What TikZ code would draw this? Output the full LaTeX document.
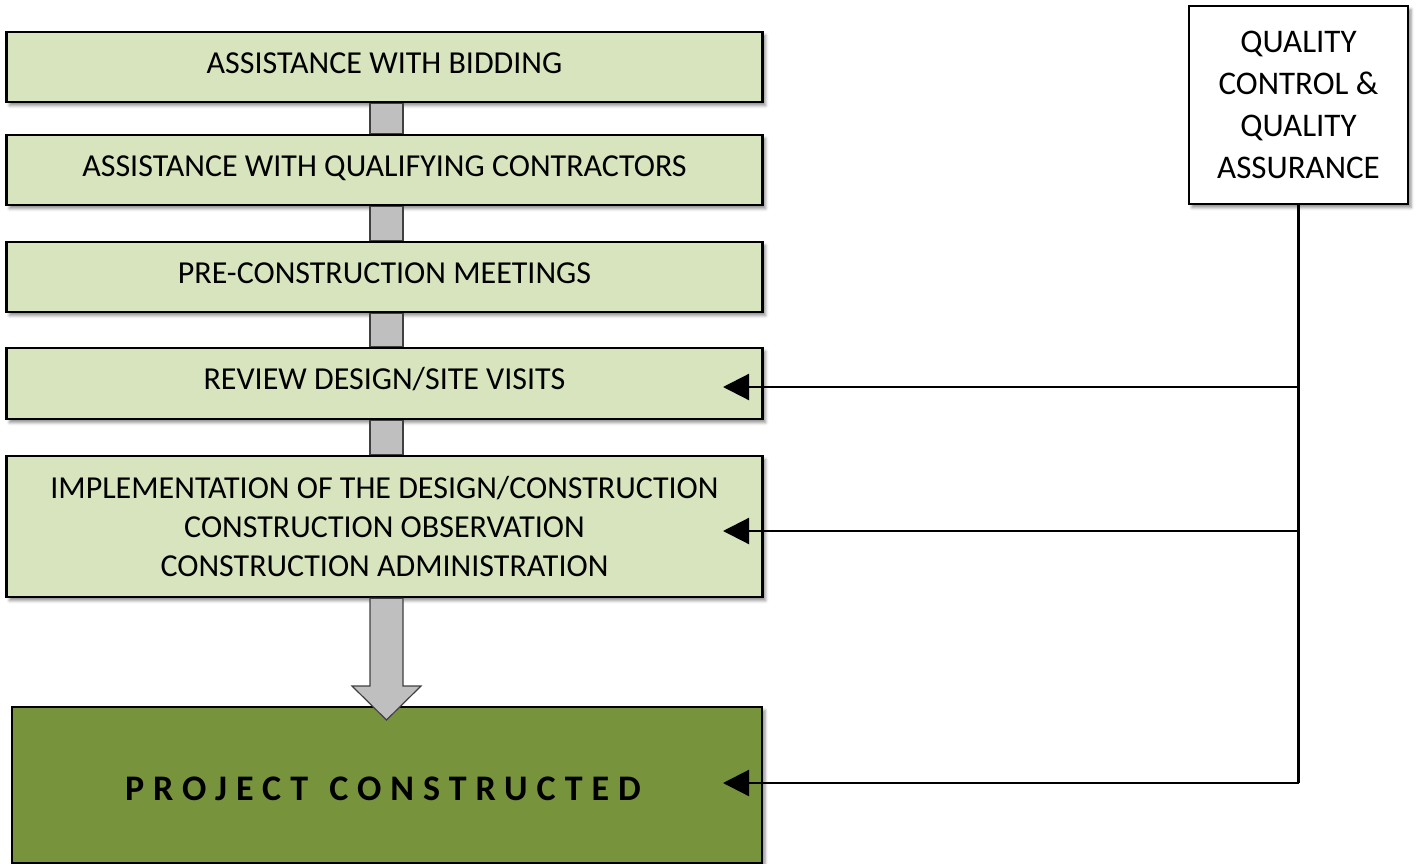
\documentclass[tikz,border=0pt]{standalone}
\usepackage{fontspec}
\setmainfont{Carlito}
\usetikzlibrary{arrows.meta,shadows.blur}
\definecolor{lightgr}{HTML}{D7E4BD}
\definecolor{darkgr}{HTML}{77933C}
\definecolor{bargray}{HTML}{BFBFBF}
\tikzset{
  shd/.style={blur shadow={shadow xshift=3pt,shadow yshift=-3.5pt,shadow blur radius=3pt,shadow opacity=45}},
  stepbox/.style={draw=black,line width=2.6pt,fill=lightgr,shd,minimum width=756pt,inner sep=0pt,align=center,font=\fontsize{32}{39}\selectfont},
  oneline/.style={text height=21pt,text depth=8.4pt},
  finbox/.style={draw=black,line width=2.2pt,fill=darkgr,shd,minimum width=750pt,minimum height=156pt,inner sep=0pt,align=center,text height=30pt,text depth=0pt,font=\fontsize{36}{40}\selectfont\bfseries\addfontfeature{LetterSpace=25}},
  qcbox/.style={draw=black,line width=2.4pt,fill=white,shd,minimum width=219pt,minimum height=198pt,inner sep=0pt,align=center,font=\fontsize{33}{42}\selectfont},
  barstyle/.style={draw=black!75,line width=1.2pt,fill=bargray},
  conn/.style={draw=black,line width=2.2pt},
  qarrow/.style={conn,-{Triangle[length=26pt,width=26pt]}}
}
\begin{document}
\begin{tikzpicture}[x=1pt,y=-1pt]
\useasboundingbox (0,0) rectangle (1416,864);
\coordinate (barL) at (370,0);
\coordinate (barR) at (403,0);
% nodes
\node[stepbox,oneline,minimum height=70pt] (b1) at (384.5,67) {ASSISTANCE WITH BIDDING};
\node[stepbox,oneline,minimum height=70pt] (b2) at (384.5,170) {ASSISTANCE WITH QUALIFYING CONTRACTORS};
\node[stepbox,oneline,minimum height=70pt] (b3) at (384.5,277) {PRE-CONSTRUCTION MEETINGS};
\node[stepbox,oneline,minimum height=71pt] (b4) at (384.5,383.5) {REVIEW DESIGN/SITE VISITS};
\node[stepbox,minimum height=141pt] (b5) at (384.5,526.5) {IMPLEMENTATION OF THE DESIGN/CONSTRUCTION\\CONSTRUCTION OBSERVATION\\CONSTRUCTION ADMINISTRATION};
\node[finbox] (fin) at (387,785) {\hspace*{-8pt}PROJECT\hspace{4pt} CONSTRUCTED};
\node[qcbox] (qc) at (1298.5,105) {QUALITY\\CONTROL \&\\QUALITY\\ASSURANCE};
% gray bars between step boxes
\path[barstyle] (barL |- b1.south) rectangle (barR |- b2.north);
\path[barstyle] (barL |- b2.south) rectangle (barR |- b3.north);
\path[barstyle] (barL |- b3.south) rectangle (barR |- b4.north);
\path[barstyle] (barL |- b4.south) rectangle (barR |- b5.north);
% big block arrow
\path[barstyle] (barL |- b5.south) -- (370,686) -- (352,686) -- (386.5,720) -- (421,686) -- (403,686) -- (barR |- b5.south) -- cycle;
% QC connectors
\coordinate (j1) at (qc.south |- 0,387);
\coordinate (j2) at (qc.south |- 0,531);
\coordinate (j3) at (qc.south |- 0,783);
\coordinate (t1) at (723,387);
\coordinate (t2) at (723,531);
\coordinate (t3) at (723,783);
\draw[conn] (qc.south) -- (j3);
\draw[qarrow] (j1) -- (t1);
\draw[qarrow] (j2) -- (t2);
\draw[qarrow] (j3) -- (t3);
\end{tikzpicture}
\end{document}
